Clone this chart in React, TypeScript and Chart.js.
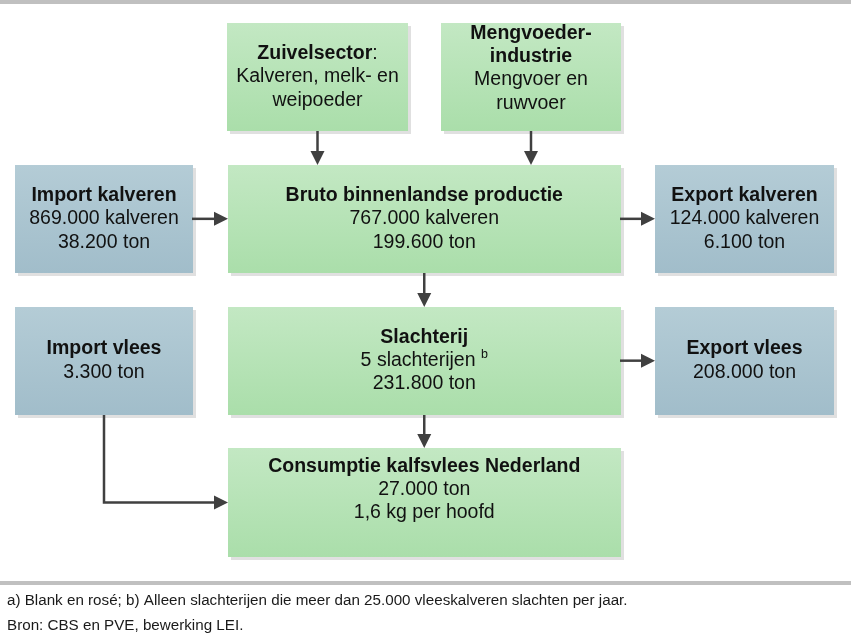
import React, { useEffect, useRef } from "react";
import { Chart, registerables } from "chart.js";

Chart.register(...registerables);

// ---- diagram content ----
const nodeNames = [
  "Zuivelsector",
  "Mengvoeder-industrie",
  "Import kalveren",
  "Bruto binnenlandse productie",
  "Export kalveren",
  "Import vlees",
  "Slachterij",
  "Export vlees",
  "Consumptie kalfsvlees Nederland",
];

// heading lines (markup: **bold**)
const nodeHeads = [
  ["**Zuivelsector**:"],
  ["**Mengvoeder-**", "**industrie**"],
  ["**Import kalveren**"],
  ["**Bruto binnenlandse productie**"],
  ["**Export kalveren**"],
  ["**Import vlees**"],
  ["**Slachterij**"],
  ["**Export vlees**"],
  ["**Consumptie kalfsvlees Nederland**"],
];

// body lines (markup: ^ superscript)
const nodeBodies = [
  ["Kalveren, melk- en", "weipoeder"],
  ["Mengvoer en", "ruwvoer"],
  ["869.000 kalveren", "38.200 ton"],
  ["767.000 kalveren", "199.600 ton"],
  ["124.000 kalveren", "6.100 ton"],
  ["3.300 ton"],
  ["5 slachterijen ^b", "231.800 ton"],
  ["208.000 ton"],
  ["27.000 ton", "1,6 kg per hoofd"],
];

const nodeKinds = ["chain", "chain", "trade", "chain", "trade", "trade", "chain", "trade", "chain"];

// flows between nodes (index pairs)
const edgeFrom = [0, 1, 2, 3, 3, 6, 6, 5];
const edgeTo = [3, 3, 3, 4, 6, 7, 8, 8];

const footnotes = [
  "a) Blank en rosé; b) Alleen slachterijen die meer dan 25.000 vleeskalveren slachten per jaar.",
  "Bron: CBS en PVE, bewerking LEI.",
];

// ---- grid layout (column / row units of the scales) ----
const gridCols = [2 / 3, 4 / 3, 0, 1, 2, 0, 1, 2, 1];
const gridRows = [0, 0, 1, 1, 1, 2, 2, 2, 3];
const gridSpans = [0.5625, 0.5625, 0.556, 1.228, 0.556, 0.556, 1.228, 0.556, 1.228];
const textLift = [0, 0.062, 0, 0, 0, 0, 0, 0, 0.09]; // text block raised (row units)
const BOX_H = 0.762;

const FONT = '"Liberation Sans", Arial, sans-serif';
const BOX_FONT = 19.5;
const LINE_H = 23.3;
const ARROW = "#404040";

type Run = { t: string; bold: boolean; sup: boolean };

function parseLine(s: string): Run[] {
  const runs: Run[] = [];
  const parts = s.split("**");
  parts.forEach((p, i) => {
    if (!p) return;
    const bold = i % 2 === 1;
    const supIdx = p.indexOf("^");
    if (supIdx >= 0) {
      if (supIdx > 0) runs.push({ t: p.slice(0, supIdx), bold, sup: false });
      runs.push({ t: p.slice(supIdx + 1), bold, sup: true });
    } else runs.push({ t: p, bold, sup: false });
  });
  return runs;
}

function runFont(r: Run) {
  const size = r.sup ? 12.5 : BOX_FONT;
  return `${r.bold ? "bold " : ""}${size}px ${FONT}`;
}

const diagramPlugin = {
  id: "flowDiagram",
  beforeDraw(chart: any) {
    const ctx = chart.ctx as CanvasRenderingContext2D;
    ctx.save();
    ctx.fillStyle = "#ffffff";
    ctx.fillRect(0, 0, chart.width, chart.height);
    ctx.fillStyle = "#c0c0c0";
    ctx.fillRect(0, 0, chart.width, 4);
    ctx.fillRect(0, 581, chart.width, 4);
    ctx.fillStyle = "#1a1a1a";
    ctx.font = `15.2px ${FONT}`;
    ctx.textBaseline = "middle";
    ctx.textAlign = "left";
    footnotes.forEach((f, i) => ctx.fillText(f, 7, 601 + i * 24.5));
    ctx.restore();
  },
  afterDatasetsDraw(chart: any) {
    const ctx = chart.ctx as CanvasRenderingContext2D;
    const xs = chart.scales.x;
    const ys = chart.scales.y;
    const X = (v: number) => xs.getPixelForValue(v);
    const Y = (v: number) => ys.getPixelForValue(v);
    const ux = X(1) - X(0);
    const uy = Y(1) - Y(0);
    const rect = (i: number) => {
      const cx = X(gridCols[i]);
      const cy = Y(gridRows[i]);
      const w = gridSpans[i] * ux;
      const h = BOX_H * uy;
      return { cx, cy, x0: Math.round(cx - w / 2), x1: Math.round(cx + w / 2), y0: Math.round(cy - h / 2), y1: Math.round(cy + h / 2) };
    };

    ctx.save();
    // boxes
    nodeNames.forEach((_, i) => {
      const r = rect(i);
      ctx.fillStyle = "#e0e0e0";
      ctx.fillRect(r.x0 + 3, r.y0 + 3, r.x1 - r.x0, r.y1 - r.y0);
      const g = ctx.createLinearGradient(0, r.y0, 0, r.y1);
      if (nodeKinds[i] === "chain") {
        g.addColorStop(0, "#c3e8c3");
        g.addColorStop(1, "#aadeaa");
      } else {
        g.addColorStop(0, "#b4ccd6");
        g.addColorStop(1, "#a1bdca");
      }
      ctx.fillStyle = g;
      ctx.fillRect(r.x0, r.y0, r.x1 - r.x0, r.y1 - r.y0);

      // text
      const lines = [...nodeHeads[i], ...nodeBodies[i]];
      const n = lines.length;
      const midY = r.cy - textLift[i] * uy;
      ctx.textBaseline = "middle";
      ctx.textAlign = "left";
      lines.forEach((ln, k) => {
        const runs = parseLine(ln);
        const y = midY + (k - (n - 1) / 2) * LINE_H;
        let total = 0;
        const widths = runs.map((rn) => {
          ctx.font = runFont(rn);
          const w = ctx.measureText(rn.t).width;
          total += w;
          return w;
        });
        let x = r.cx - total / 2;
        runs.forEach((rn, j) => {
          ctx.font = runFont(rn);
          ctx.fillStyle = "#111111";
          ctx.fillText(rn.t, x, rn.sup ? y - 6 : y);
          x += widths[j];
        });
      });
    });

    // arrows
    const head = (tx: number, ty: number, dir: "down" | "right") => {
      ctx.fillStyle = ARROW;
      ctx.beginPath();
      if (dir === "down") {
        ctx.moveTo(tx, ty);
        ctx.lineTo(tx - 7, ty - 14);
        ctx.lineTo(tx + 7, ty - 14);
      } else {
        ctx.moveTo(tx, ty);
        ctx.lineTo(tx - 14, ty - 7);
        ctx.lineTo(tx - 14, ty + 7);
      }
      ctx.closePath();
      ctx.fill();
    };
    ctx.strokeStyle = ARROW;
    ctx.lineWidth = 2.5;
    edgeFrom.forEach((from, e) => {
      const a = rect(from);
      const b = rect(edgeTo[e]);
      ctx.beginPath();
      if (gridRows[from] === gridRows[edgeTo[e]]) {
        const y = a.cy;
        ctx.moveTo(a.x1 - 1, y);
        ctx.lineTo(b.x0 - 12, y);
        ctx.stroke();
        head(b.x0, y, "right");
      } else if (a.cx >= b.x0 && a.cx <= b.x1) {
        const x = a.cx;
        ctx.moveTo(x, a.y1);
        ctx.lineTo(x, b.y0 - 12);
        ctx.stroke();
        head(x, b.y0, "down");
      } else {
        const x = a.cx;
        const y = b.cy;
        ctx.moveTo(x, a.y1);
        ctx.lineTo(x, y);
        ctx.lineTo(b.x0 - 12, y);
        ctx.stroke();
        head(b.x0, y, "right");
      }
    });
    ctx.restore();
  },
};

export default function App() {
  const ref = useRef<HTMLCanvasElement | null>(null);
  useEffect(() => {
    if (!ref.current) return;
    const chart = new Chart(ref.current, {
      type: "scatter",
      data: {
        datasets: [
          {
            label: "nodes",
            data: nodeNames.map((_, i) => ({ x: gridCols[i], y: gridRows[i] })),
            pointRadius: 0,
            pointHoverRadius: 0,
          },
        ],
      },
      options: {
        animation: false,
        responsive: false,
        maintainAspectRatio: false,
        devicePixelRatio: 1,
        events: [],
        layout: { padding: { left: 104, right: 106.5, top: 77, bottom: 135.5 } },
        scales: {
          x: { type: "linear", min: 0, max: 2, display: false },
          y: { type: "linear", min: 0, max: 3, reverse: true, display: false },
        },
        plugins: { legend: { display: false }, tooltip: { enabled: false }, title: { display: false } },
      },
      plugins: [diagramPlugin],
    });
    return () => chart.destroy();
  }, []);
  return (
    <div style={{ position: "absolute", left: 0, top: 0, width: 851, height: 638, background: "#fff" }}>
      <canvas ref={ref} width={851} height={638} style={{ display: "block", width: 851, height: 638 }} />
    </div>
  );
}
